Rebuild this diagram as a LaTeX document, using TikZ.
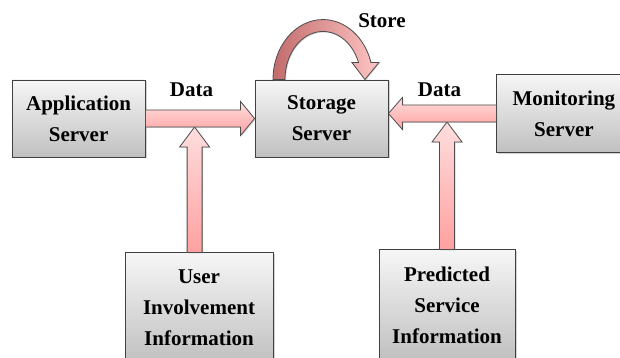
\documentclass[tikz,border=0pt]{standalone}
\usepackage{fontspec}
\setmainfont{Liberation Serif}
\usetikzlibrary{positioning, calc, shadows}

\definecolor{boxtop}{RGB}{246,246,246}
\definecolor{boxbot}{RGB}{192,192,192}
\definecolor{pinktop}{RGB}{255,222,222}
\definecolor{pinkbot}{RGB}{255,160,160}
\definecolor{loopdark}{RGB}{194,108,108}
\definecolor{looplight}{RGB}{255,196,196}

\tikzset{
  server/.style={draw=black!75, line width=0.9pt, top color=boxtop, bottom color=boxbot,
    align=center, inner sep=0pt, minimum width=133pt, minimum height=77pt,
    font=\fontsize{21}{31}\selectfont\bfseries,
    drop shadow={shadow xshift=1.5pt, shadow yshift=-1.5pt, opacity=0.35}},
  flow/.style={draw=black!70, line width=0.8pt, top color=pinktop, bottom color=pinkbot,
    drop shadow={shadow xshift=1pt, shadow yshift=-1pt, opacity=0.3}},
  lbl/.style={font=\fontsize{21}{31}\selectfont\bfseries, inner sep=0pt}
}

% block arrow: from, to, half shaft, half head, head length
\newcommand{\blockarrow}[5]{%
  \path (#1) coordinate (ba-s) (#2) coordinate (ba-t)
    ($(ba-t)!#5!(ba-s)$) coordinate (ba-h);
  \draw[flow] ($(ba-s)!#3!-90:(ba-t)$) -- ($(ba-h)!#3!90:(ba-s)$)
    -- ($(ba-h)!#4!90:(ba-s)$) -- (ba-t) -- ($(ba-h)!#4!-90:(ba-s)$)
    -- ($(ba-h)!#3!-90:(ba-s)$) -- ($(ba-s)!#3!90:(ba-t)$) -- cycle;
}

\begin{document}
\begin{tikzpicture}[x=1pt, y=1pt]
\useasboundingbox (0,0) rectangle (620,358);
\clip (0,0) rectangle (620,358);

% Servers
\node[server] (store) at (321.5,239.5) {Storage\\Server};
\node[server, left=109pt of store] (app) {Application\\Server};
\node[server, right=108pt of store, yshift=5pt, minimum width=134pt, minimum height=78pt] (mon) {Monitoring\\Server};

% Information sources
\node[server, below=95pt of store, xshift=-122.5pt, minimum width=148pt, minimum height=110pt] (user) {User\\Involvement\\Information};
\node[server, below=92pt of store, xshift=125.5pt, minimum width=136pt, minimum height=110pt] (pred) {Predicted\\Service\\Information};

% Joins on the data arrows
\coordinate (j1) at ([yshift=-8.5pt]$(app.east)!0.45!(store.west)$);
\coordinate (j2) at ([yshift=-8.5pt]pred.north |- mon.west);

% Arrows
\blockarrow{user.north -| j1}{j1}{7.5pt}{15pt}{20pt}
\blockarrow{pred.north}{j2}{7.5pt}{15pt}{20pt}
\blockarrow{app.east}{store.west}{8.5pt}{17pt}{14pt}
\blockarrow{mon.west}{store.east |- mon.west}{8.5pt}{16pt}{14pt}

% Store loop
\coordinate (loop) at ([xshift=1.5pt]store.north);
\draw[flow, left color=loopdark, right color=looplight]
  ([xshift=-50pt]loop) arc[start angle=180, end angle=16.5, x radius=50, y radius=60]
  -- ++(8,0) -- ++(-14,-17) -- ++(-13,17) -- ++(6.6,0)
  arc[start angle=20.7, end angle=180, x radius=38, y radius=48] -- cycle;

% Labels
\node[lbl, anchor=base] (data1) at (191.5,261) {Data};
\node[lbl, anchor=base] (data2) at (439.5,261) {Data};
\node[lbl, anchor=base] (storelbl) at (382,330) {Store};
\end{tikzpicture}
\end{document}
